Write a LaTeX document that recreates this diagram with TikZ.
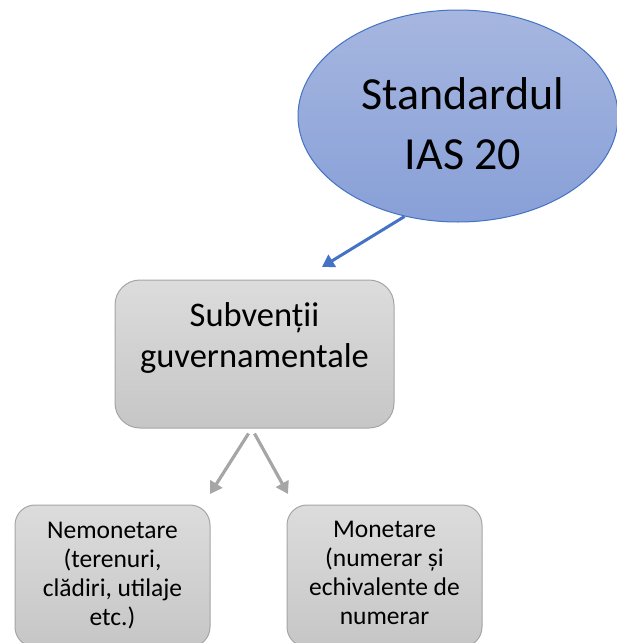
\documentclass[tikz,border=0pt]{standalone}
\usepackage{fontspec}
\setmainfont{Carlito}
\usepackage{tikz}
\usetikzlibrary{shapes.geometric,arrows.meta}
\definecolor{ellline}{HTML}{4472C4}
\definecolor{elltop}{HTML}{A6B6DF}
\definecolor{ellbot}{HTML}{88A0D8}
\definecolor{boxline}{HTML}{A5A5A5}
\definecolor{boxtop}{HTML}{DCDCDC}
\definecolor{boxbot}{HTML}{C6C6C6}
\definecolor{arrgray}{HTML}{A6A6A6}

\begin{document}
\begin{tikzpicture}[x=1pt,y=-1pt,
    stdell/.style={ellipse,draw=ellline,line width=1pt,top color=elltop,bottom color=ellbot,
      minimum width=320pt,minimum height=212pt,inner sep=0pt},
    graybox/.style={rectangle,rounded corners=#1,draw=boxline,line width=1pt,
      top color=boxtop,bottom color=boxbot,inner sep=0pt},
    bigtext/.style={align=center,font=\fontsize{46}{60}\selectfont},
    midtext/.style={align=center,font=\fontsize{34.5}{41}\selectfont},
    smalltext/.style={align=center,font=\fontsize{25.5}{29}\selectfont},
    bluearrow/.style={draw=ellline,line width=3pt,-{Triangle[width=14pt,length=12pt]}},
    grayarrow/.style={draw=arrgray,line width=3.2pt,-{Triangle[width=14pt,length=12pt]}}]
    \useasboundingbox (0,0) rectangle (617,643);
    % Draw the ellipse with the standard
    \node[stdell] (std) at (458,116) {};
    \node[bigtext] (stdlbl) at (463,124) {Standardul\\IAS 20};
    % Draw the main box
    \node[graybox=25pt,minimum width=279pt,minimum height=148pt] (subv) at (254.5,354) {};
    \node[midtext] (subvlbl) at (254.5,338) {Subvenții\\guvernamentale};
    % Draw the two boxes at the bottom
    \node[graybox=20pt,minimum width=195pt,minimum height=142pt] (nemon) at (112.5,576) {};
    \node[smalltext] (nemonlbl) at (112.5,576) {Nemonetare\\(terenuri,\\clădiri, utilaje\\etc.)};
    \node[graybox=20pt,minimum width=195pt,minimum height=142pt] (mon) at (384.5,576) {};
    \node[smalltext] (monlbl) at (384.5,573) {Monetare\\(numerar și\\echivalente de\\numerar};
    % Draw the arrows
    \coordinate (stdtip) at (322,267);
    \coordinate (nemontip) at (210,494);
    \coordinate (montip) at (288,494);
    \draw[bluearrow] (std.-118) -- (stdtip);
    \draw[grayarrow] ([xshift=-6pt,yshift=-5pt]subv.south) -- (nemontip);
    \draw[grayarrow] ([xshift=0pt,yshift=-5pt]subv.south) -- (montip);
  \end{tikzpicture}
\end{document}
